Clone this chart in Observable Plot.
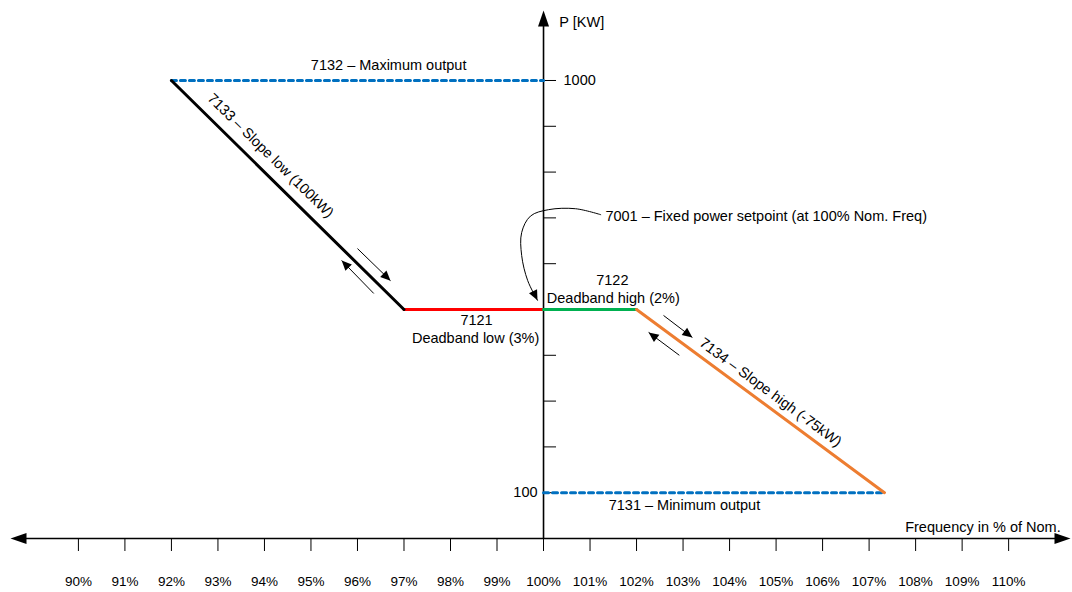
<!DOCTYPE html>
<html>
<head>
<meta charset="utf-8">
<script src="https://cdn.jsdelivr.net/npm/d3@7"></script>
<script src="https://cdn.jsdelivr.net/npm/@observablehq/plot@0.6"></script>
<style>
  html, body { margin: 0; padding: 0; background: #fff; }
  #chart svg { display: block; }
</style>
</head>
<body>
<div id="chart"></div>
<script>
// ---- data ----
const freqTicks = [90,91,92,93,94,95,96,97,98,99,100,101,102,103,104,105,106,107,108,109,110];
const powerTicks = [100,200,300,400,500,600,700,800,900,1000];
const powerTickLabels = [{p: 1000, label: "1000", side: "right"}, {p: 100, label: "100", side: "left"}];

const slopeLow     = [{f: 92, p: 1000}, {f: 97, p: 500}];
const deadbandLow  = [{f: 97, p: 500},  {f: 100, p: 500}];
const deadbandHigh = [{f: 100, p: 500}, {f: 102, p: 500}];
const slopeHigh    = [{f: 102, p: 500}, {f: 107.33, p: 100}];
const maxOutput    = [{f: 92, p: 1000}, {f: 100, p: 1000}];
const minOutput    = [{f: 100, p: 100}, {f: 107.33, p: 100}];

// setpoint pointer curve (frequency %, kW)
const pointerCurve = [
  {f: 101.23, p: 707}, {f: 100.69, p: 720}, {f: 100.11, p: 718}, {f: 99.72, p: 704},
  {f: 99.53, p: 668}, {f: 99.53, p: 618}, {f: 99.66, p: 563}, {f: 99.87, p: 520}
];
// small direction arrows along slopes
const slopeArrows = [
  {f1: 96.00, p1: 633, f2: 96.71, p2: 563},
  {f1: 96.35, p1: 535, f2: 95.66, p2: 607},
  {f1: 102.58, p1: 487, f2: 103.20, p2: 439},
  {f1: 102.92, p1: 400, f2: 102.26, p2: 450}
];

const labels = [
  {f: 100.34, p: 1127, text: "P [KW]", anchor: "start"},
  {f: 96.67, p: 1033, text: "7132 \u2013 Maximum output", anchor: "middle"},
  {f: 98.56, p: 476, text: "7121", anchor: "middle"},
  {f: 98.54, p: 437, text: "Deadband low (3%)", anchor: "middle"},
  {f: 101.48, p: 563, text: "7122", anchor: "middle"},
  {f: 101.50, p: 524, text: "Deadband high (2%)", anchor: "middle"},
  {f: 101.33, p: 703, text: "7001 \u2013 Fixed power setpoint (at 100% Nom. Freq)", anchor: "start"},
  {f: 103.03, p: 72, text: "7131 \u2013 Minimum output", anchor: "middle"},
  {f: 111.12, p: 24, text: "Frequency in % of Nom.", anchor: "end"}
];
const slopeLabels = [
  {f: 94.13, p: 836, text: "7133 \u2013 Slope low (100kW)", seg: slopeLow},
  {f: 104.88, p: 319, text: "7134 \u2013 Slope high (-75kW)", seg: slopeHigh}
];

// ---- layout ----
const W = 1072, H = 592;
const mt = 10, mb = 54, ml = 10, mr = 2;
const xDom = [88.54, 111.33], yDom = [0, 1152.8];
const kx = (W - ml - mr) / (xDom[1] - xDom[0]);
const ky = (H - mt - mb) / (yDom[1] - yDom[0]);
const angle = (f1, p1, f2, p2) => Math.atan2(-(p2 - p1) * ky, (f2 - f1) * kx) * 180 / Math.PI;

const head = (L, w) => ({draw(ctx) { ctx.moveTo(0, 0); ctx.lineTo(-L, -w); ctx.lineTo(-L, w); ctx.closePath(); }});
const bigHead = head(16, 5.5);
const smallHead = head(10, 4.5);

const font = "'Liberation Sans', Arial, Helvetica, sans-serif";
const FS = 14.5;
const lastTwo = pointerCurve.slice(-2);
const textMarks = ["start", "middle", "end"].map(a =>
  Plot.text(labels.filter(d => d.anchor === a), {x: "f", y: "p", text: "text", textAnchor: a, fontSize: FS, fill: "#000"}));

const chart = Plot.plot({
  width: W, height: H,
  marginTop: mt, marginBottom: mb, marginLeft: ml, marginRight: mr,
  style: {fontFamily: font, fontSize: "13.5px", background: "#fff", color: "#000"},
  x: {domain: xDom, ticks: freqTicks, tickSize: 13, tickPadding: 25, tickFormat: d => d + "%", label: null},
  y: {domain: yDom, axis: null},
  marks: [
    // axes lines
    Plot.ruleY([0], {x1: xDom[0] + 10 / kx, x2: xDom[1] - 10 / kx, stroke: "#000", strokeWidth: 1.6}),
    Plot.ruleX([100], {y1: 0, y2: yDom[1] - 10 / ky, stroke: "#000", strokeWidth: 1.6}),
    Plot.dot([{f: xDom[0], p: 0, r: 180}, {f: xDom[1], p: 0, r: 0}, {f: 100, p: yDom[1], r: -90}],
      {x: "f", y: "p", rotate: "r", symbol: bigHead, fill: "#000", stroke: "none"}),
    // y ticks
    Plot.ruleY(powerTicks, {x1: 100, x2: 100 + 13 / kx, stroke: "#000", strokeWidth: 1}),
    Plot.text(powerTickLabels.filter(d => d.side === "right"), {
      x: 100 + 20 / kx, y: "p", text: "label", textAnchor: "start", fontSize: FS, fill: "#000"
    }),
    Plot.text(powerTickLabels.filter(d => d.side === "left"), {
      x: 100 - 6 / kx, y: "p", text: "label", textAnchor: "end", fontSize: FS, fill: "#000"
    }),
    // limits
    Plot.line(maxOutput, {x: "f", y: "p", stroke: "#0070C0", strokeWidth: 3, strokeDasharray: "5,4"}),
    Plot.line(minOutput, {x: "f", y: "p", stroke: "#0070C0", strokeWidth: 3, strokeDasharray: "5,4"}),
    // characteristic
    Plot.line(deadbandLow, {x: "f", y: "p", stroke: "#FF0000", strokeWidth: 3}),
    Plot.line(deadbandHigh, {x: "f", y: "p", stroke: "#00B050", strokeWidth: 3}),
    Plot.line(slopeHigh, {x: "f", y: "p", stroke: "#ED7D31", strokeWidth: 3}),
    Plot.line(slopeLow, {x: "f", y: "p", stroke: "#000", strokeWidth: 3}),
    // pointer curve
    Plot.line(pointerCurve, {x: "f", y: "p", curve: "catmull-rom", stroke: "#000", strokeWidth: 1}),
    Plot.dot([lastTwo[1]], {x: "f", y: "p", symbol: smallHead, fill: "#000", stroke: "none",
      rotate: angle(lastTwo[0].f, lastTwo[0].p, lastTwo[1].f, lastTwo[1].p)}),
    // slope arrows
    Plot.link(slopeArrows, {x1: "f1", y1: "p1", x2: "f2", y2: "p2", stroke: "#000", strokeWidth: 1}),
    Plot.dot(slopeArrows, {x: "f2", y: "p2", symbol: smallHead, fill: "#000", stroke: "none",
      rotate: d => angle(d.f1, d.p1, d.f2, d.p2)}),
    // labels
    ...textMarks,
    ...slopeLabels.map(d => Plot.text([d], {x: "f", y: "p", text: "text", fontSize: FS, fill: "#000",
      rotate: angle(d.seg[0].f, d.seg[0].p, d.seg[1].f, d.seg[1].p)}))
  ]
});
document.getElementById("chart").append(chart);
</script>
</body>
</html>
